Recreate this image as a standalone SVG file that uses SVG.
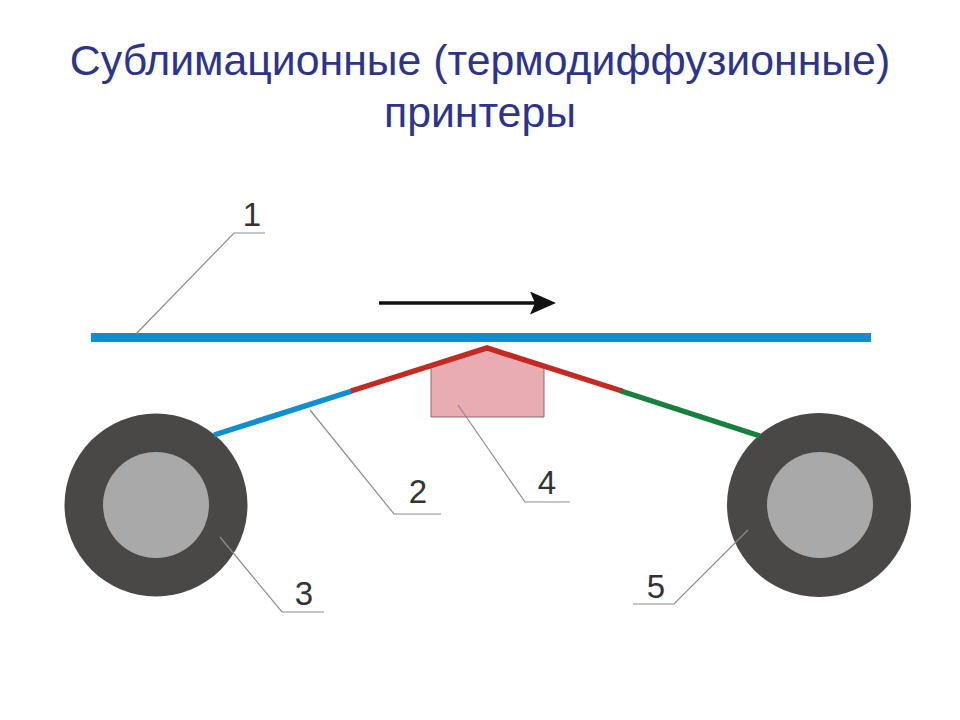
<svg xmlns="http://www.w3.org/2000/svg" width="960" height="720" viewBox="0 0 960 720">
<style>
.t{font-family:"Liberation Sans",Arial,sans-serif;font-size:42.8px;fill:#2e3488;text-anchor:middle}
.n{font-family:"Liberation Sans",Arial,sans-serif;font-size:33px;fill:#333;text-anchor:middle}
.l{fill:none;stroke:#8c8c8c;stroke-width:1.2}
.w{fill:none;stroke-width:5.5}
.o{fill:#4a4846}
.i{fill:#a9a9a9}
</style>
<defs><marker id="a" markerWidth="28" markerHeight="24" refX="10" refY="11.5" orient="auto" markerUnits="userSpaceOnUse"><path d="M0 0L26 11.5L0 23L5 11.5Z" fill="#111"/></marker></defs>
<rect width="960" height="720" fill="#fff"/>
<text class="t" x="480" y="75">Сублимационные (термодиффузионные)</text>
<text class="t" x="480" y="127">принтеры</text>
<g id="node-4"><path d="M431 367L487 349L544 367V417H431Z" fill="#e8acb2" stroke="#8a6a6a" stroke-width="1"/></g>
<g id="node-3"><circle class="o" cx="156" cy="505" r="91.5"/><circle class="i" cx="156" cy="505" r="53"/></g>
<g id="node-5"><circle class="o" cx="819" cy="505" r="92"/><circle class="i" cx="820" cy="505" r="53"/></g>
<g id="node-1"><rect x="91" y="333" width="780" height="9" fill="#0a8fd6"/></g>
<g id="connectors">
<path class="w" stroke="#0f8fd0" d="M214 435L352 391"/>
<path class="w" stroke="#c42a24" d="M351 391L487 348L622 391"/>
<path class="w" stroke="#16803c" d="M621 391L760 436"/>
<path d="M379 303H540" stroke="#111" stroke-width="3.5" fill="none" marker-end="url(#a)"/>
<path class="l" d="M265 233H234L136 334"/>
<path class="l" d="M441 514H394L310 410"/>
<path class="l" d="M570 502H525L458 405"/>
<path class="l" d="M324 612H282L220 537"/>
<path class="l" d="M633 604H674L748 530"/>
</g>
<text class="n" x="252" y="226">1</text>
<text class="n" x="418" y="503">2</text>
<text class="n" x="304" y="605">3</text>
<text class="n" x="547" y="494">4</text>
<text class="n" x="656" y="598">5</text>
</svg>
